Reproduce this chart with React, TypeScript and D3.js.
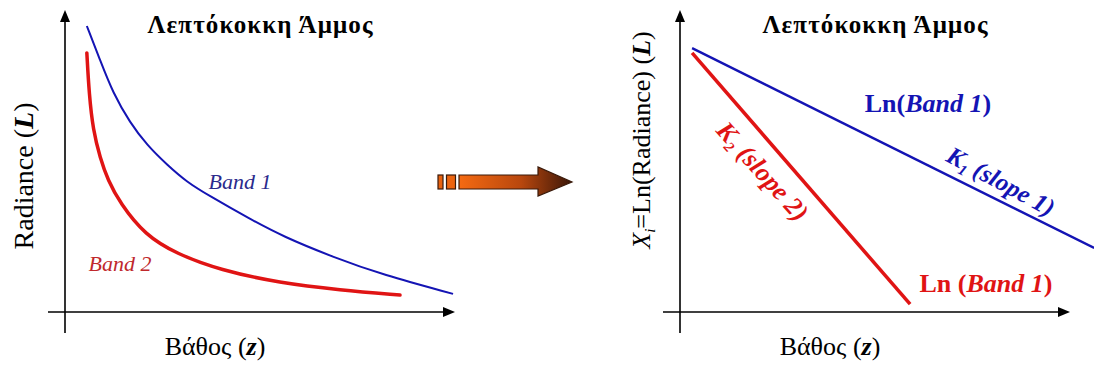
import React from 'react';
import * as d3 from 'd3';

const width = 1094;
const height = 365;
const blue = '#1414b4';
const red = '#e01414';
const serif = 'Liberation Serif';

// left panel: radiance vs depth
const depth1 = [0.56, 0.9, 1.23, 1.67, 2.1, 2.62, 3.13, 3.67, 4.74, 5.59, 6.87, 8.15, 9.95];
const band1 = [94.7, 83.4, 72.5, 62.6, 55.3, 48.7, 43.0, 38.7, 30.8, 25.0, 18.2, 12.3, 6.0];
const depth2 = [0.56, 0.62, 0.72, 0.9, 1.1, 1.41, 2.05, 2.87, 3.97, 5.51, 7.05, 8.59];
const band2 = [85.8, 71.9, 60.3, 51.0, 43.7, 36.1, 25.5, 19.2, 13.9, 9.6, 7.3, 5.6];

// right panel: ln(radiance) vs depth
const lnDepth1 = [0.31, 10.62];
const lnBand1 = [87.4, 21.2];
const lnDepth2 = [0.31, 5.9];
const lnBand2 = [85.8, 2.6];

const title = 'Λεπτόκοκκη Άμμος';
const xLabel = 'Βάθος';

const leftX = d3.scaleLinear().domain([0, 10]).range([65, 455]);
const rightX = d3.scaleLinear().domain([0, 10]).range([680, 1070]);
const yScale = d3.scaleLinear().domain([0, 100]).range([312, 10]);

function line(xs: number[], ys: number[], xScale: d3.ScaleLinear<number, number>, curve: d3.CurveFactory = d3.curveBasis) {
  const pts = xs.map((x, i) => [x, ys[i]] as [number, number]);
  return d3.line<[number, number]>()
    .x(d => xScale(d[0]))
    .y(d => yScale(d[1]))
    .curve(curve)(pts) || '';
}

function Axes({ xScale }: { xScale: d3.ScaleLinear<number, number> }) {
  const x0 = xScale(0);
  const y0 = yScale(0);
  const [, x1] = xScale.range();
  const top = yScale(100);
  return (
    <g stroke="#000" strokeWidth={1.6}>
      <line x1={x0} y1={y0 + 21} x2={x0} y2={top + 8} />
      <line x1={x0 - 17} y1={y0} x2={x1 - 8} y2={y0} />
      <path d={`M${x0},${top} L${x0 - 5},${top + 12} L${x0 + 5},${top + 12} Z`} fill="#000" stroke="none" />
      <path d={`M${x1},${y0} L${x1 - 12},${y0 - 5} L${x1 - 12},${y0 + 5} Z`} fill="#000" stroke="none" />
    </g>
  );
}

export default function App() {
  const blueAngle = Math.atan2(yScale(lnBand1[1]) - yScale(lnBand1[0]), rightX(lnDepth1[1]) - rightX(lnDepth1[0])) * 180 / Math.PI;
  const redAngle = Math.atan2(yScale(lnBand2[1]) - yScale(lnBand2[0]), rightX(lnDepth2[1]) - rightX(lnDepth2[0])) * 180 / Math.PI;
  return (
    <svg width={width} height={height} style={{ position: 'absolute', left: 0, top: 0, background: '#fff' }}>
      <defs>
        <linearGradient id="arrowGrad" x1="0" x2="1" y1="0" y2="0">
          <stop offset="0" stopColor="#f56a12" />
          <stop offset="0.55" stopColor="#b8470e" />
          <stop offset="1" stopColor="#3a1608" />
        </linearGradient>
      </defs>

      {/* left panel */}
      <Axes xScale={leftX} />
      <path d={line(depth1, band1, leftX)} fill="none" stroke={blue} strokeWidth={2} />
      <path d={line(depth2, band2, leftX)} fill="none" stroke={red} strokeWidth={3.5} strokeLinecap="round" />
      <text fontFamily={serif} x={260} y={33} textAnchor="middle" fontSize={25} fontWeight="bold" textLength={225} lengthAdjust="spacing">{title}</text>
      <text fontFamily={serif} x={240} y={189} textAnchor="middle" fontSize={22} fontStyle="italic" fill="#2a2a8c">Band 1</text>
      <text fontFamily={serif} x={120} y={271} textAnchor="middle" fontSize={22} fontStyle="italic" fill="#c0282c">Band 2</text>
      <text fontFamily={serif} transform="translate(33,176) rotate(-90)" textAnchor="middle" fontSize={28}>
        Radiance (<tspan fontWeight="bold" fontStyle="italic">L</tspan>)
      </text>
      <text fontFamily={serif} x={215} y={355} textAnchor="middle" fontSize={26}>
        {xLabel} (<tspan fontWeight="bold" fontStyle="italic">z</tspan>)
      </text>

      {/* middle arrow */}
      <g stroke="#3a1a0a" strokeWidth={1.2}>
        <rect x={438} y={175} width={5} height={14} fill="#e8620f" />
        <rect x={446.5} y={175} width={9} height={14} fill="#ec6410" />
        <path d="M459,175 L538,175 L538,167 L572,182 L538,196 L538,189 L459,189 Z" fill="url(#arrowGrad)" />
      </g>

      {/* right panel */}
      <Axes xScale={rightX} />
      <path d={line(lnDepth1, lnBand1, rightX, d3.curveLinear)} fill="none" stroke={blue} strokeWidth={2.4} />
      <path d={line(lnDepth2, lnBand2, rightX, d3.curveLinear)} fill="none" stroke={red} strokeWidth={3.5} />
      <text fontFamily={serif} x={875} y={33} textAnchor="middle" fontSize={25} fontWeight="bold" textLength={225} lengthAdjust="spacing">{title}</text>
      <text fontFamily={serif} x={928} y={112} textAnchor="middle" fontSize={26} fontWeight="bold" fill={blue}>
        Ln(<tspan fontStyle="italic">Band 1</tspan>)
      </text>
      <text fontFamily={serif} x={986} y={292} textAnchor="middle" fontSize={26} fontWeight="bold" fill={red}>
        Ln (<tspan fontStyle="italic">Band 1</tspan>)
      </text>
      <text fontFamily={serif} transform={`translate(1001,181) rotate(${blueAngle + 2})`} dy="0.35em" textAnchor="middle" fontSize={25} fontWeight="bold" fontStyle="italic" fill={blue}>
        K<tspan fontSize={15} dy={5}>1</tspan><tspan dy={-5}> (slope 1)</tspan>
      </text>
      <text fontFamily={serif} transform={`translate(763,171) rotate(${redAngle - 1})`} dy="0.35em" textAnchor="middle" fontSize={26} fontWeight="bold" fontStyle="italic" fill={red}>
        K<tspan fontSize={15} dy={5}>2</tspan><tspan dy={-5}> (slope 2)</tspan>
      </text>
      <text fontFamily={serif} transform="translate(650,140) rotate(-90)" textAnchor="middle" fontSize={26}>
        <tspan fontStyle="italic">X</tspan><tspan fontStyle="italic" fontSize={15} dy={5}>i</tspan><tspan dy={-5}>=Ln(Radiance) (</tspan><tspan fontWeight="bold" fontStyle="italic">L</tspan>)
      </text>
      <text fontFamily={serif} x={830} y={355} textAnchor="middle" fontSize={26}>
        {xLabel} (<tspan fontWeight="bold" fontStyle="italic">z</tspan>)
      </text>
    </svg>
  );
}
